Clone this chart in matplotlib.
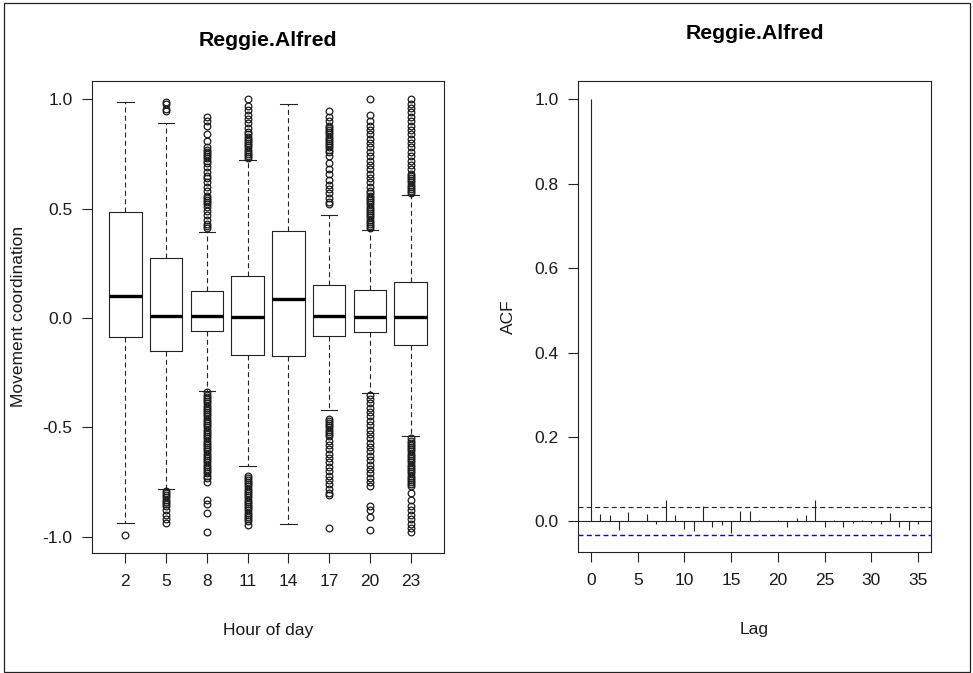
import numpy as np
import matplotlib
matplotlib.use('Agg')
import matplotlib.pyplot as plt
from matplotlib.patches import Rectangle

plt.rcParams['font.family'] = ['Liberation Sans', 'DejaVu Sans']
plt.rcParams['axes.unicode_minus'] = False
plt.rcParams['lines.scale_dashes'] = False

title = 'Reggie.Alfred'

# boxplot: hour of day groups
hours = ['2', '5', '8', '11', '14', '17', '20', '23']
whis_hi = [0.99, 0.89, 0.393, 0.721, 0.98, 0.470, 0.401, 0.564]
q3 = [0.485, 0.275, 0.123, 0.191, 0.397, 0.150, 0.126, 0.164]
med = [0.100, 0.008, 0.008, 0.004, 0.089, 0.008, 0.004, 0.004]
q1 = [-0.085, -0.152, -0.057, -0.167, -0.175, -0.080, -0.065, -0.121]
whis_lo = [-0.935, -0.782, -0.333, -0.677, -0.942, -0.421, -0.345, -0.540]
fliers = [
    [-0.99],
    [0.99, 0.98, 0.955, 0.945,
     -0.79, -0.80, -0.81, -0.82, -0.83, -0.84, -0.85, -0.86, -0.88, -0.90, -0.92, -0.935],
    [0.41, 0.42, 0.43, 0.45, 0.47, 0.49, 0.51, 0.52, 0.53, 0.54, 0.55, 0.56, 0.58, 0.60,
     0.62, 0.64, 0.65, 0.67, 0.69, 0.71, 0.72, 0.73, 0.74, 0.75, 0.76, 0.77, 0.78, 0.81,
     0.84, 0.88, 0.90, 0.92,
     -0.34, -0.35, -0.36, -0.37, -0.38, -0.39, -0.40, -0.41, -0.42, -0.43, -0.44, -0.45,
     -0.46, -0.47, -0.48, -0.49, -0.50, -0.51, -0.52, -0.53, -0.54, -0.55, -0.56, -0.57,
     -0.58, -0.59, -0.60, -0.61, -0.62, -0.63, -0.64, -0.65, -0.66, -0.67, -0.68, -0.69,
     -0.70, -0.71, -0.72, -0.73, -0.75, -0.83, -0.85, -0.89, -0.98],
    [0.73, 0.74, 0.75, 0.76, 0.77, 0.78, 0.79, 0.80, 0.81, 0.82, 0.83, 0.84, 0.85, 0.87,
     0.89, 0.91, 0.93, 0.95, 0.97, 1.0,
     -0.72, -0.73, -0.74, -0.75, -0.76, -0.77, -0.78, -0.79, -0.80, -0.81, -0.82, -0.83,
     -0.84, -0.85, -0.86, -0.87, -0.88, -0.89, -0.90, -0.91, -0.92, -0.93, -0.945],
    [],
    [0.52, 0.53, 0.55, 0.57, 0.59, 0.61, 0.63, 0.66, 0.68, 0.71, 0.74, 0.76, 0.77, 0.78,
     0.79, 0.80, 0.81, 0.82, 0.83, 0.84, 0.85, 0.86, 0.87, 0.88, 0.90, 0.92, 0.945,
     -0.46, -0.47, -0.48, -0.49, -0.50, -0.51, -0.52, -0.53, -0.54, -0.56, -0.58, -0.60,
     -0.62, -0.64, -0.66, -0.68, -0.70, -0.72, -0.74, -0.76, -0.78, -0.80, -0.81, -0.96],
    [0.41, 0.42, 0.43, 0.44, 0.45, 0.46, 0.47, 0.48, 0.49, 0.50, 0.51, 0.52, 0.53, 0.54,
     0.55, 0.56, 0.57, 0.58, 0.60, 0.62, 0.64, 0.66, 0.68, 0.70, 0.72, 0.74, 0.76, 0.78,
     0.80, 0.82, 0.84, 0.86, 0.88, 0.90, 0.93, 1.0,
     -0.35, -0.37, -0.39, -0.41, -0.43, -0.45, -0.47, -0.49, -0.51, -0.53, -0.55, -0.57,
     -0.59, -0.61, -0.63, -0.65, -0.67, -0.69, -0.71, -0.73, -0.75, -0.77,
     -0.86, -0.88, -0.91, -0.97],
    [0.57, 0.58, 0.59, 0.60, 0.61, 0.62, 0.63, 0.64, 0.65, 0.66, 0.68, 0.70, 0.72, 0.74,
     0.76, 0.78, 0.80, 0.82, 0.84, 0.86, 0.88, 0.90, 0.92, 0.94, 0.96, 0.98, 1.0,
     -0.55, -0.56, -0.57, -0.58, -0.59, -0.60, -0.61, -0.62, -0.63, -0.64, -0.65, -0.66,
     -0.67, -0.68, -0.69, -0.70, -0.71, -0.72, -0.73, -0.74, -0.75, -0.76, -0.77,
     -0.80, -0.83, -0.86, -0.88, -0.90, -0.92, -0.94, -0.96, -0.98],
]

# acf
lags = list(range(36))
acf = [1.0, 0.017, 0.015, -0.020, 0.022, 0.0, 0.017, -0.006, 0.050, 0.015,
       -0.017, -0.023, 0.036, -0.012, -0.008, -0.028, 0.025, 0.025, 0.004, 0.002,
       0.004, -0.013, 0.009, 0.016, 0.051, -0.012, 0.004, -0.012, -0.004, 0.004,
       -0.004, -0.006, 0.020, -0.012, -0.020, -0.005]
ci_up = 0.035
ci_lo = -0.033

W, H = 973, 673
fig = plt.figure(figsize=(W / 100, H / 100), dpi=100)
fig.patches.append(Rectangle((4 / W, 1.5 / H), 966 / W, 668.5 / H, transform=fig.transFigure,
                             fill=False, lw=0.9, edgecolor='#222222'))

ax1 = fig.add_axes([92 / W, (H - 552.7) / H, 352 / W, 471.7 / H])
ax2 = fig.add_axes([578 / W, (H - 552.3) / H, 353 / W, 471.3 / H])

stats = []
for i in range(len(hours)):
    stats.append({'med': med[i], 'q1': q1[i], 'q3': q3[i], 'whislo': whis_lo[i],
                  'whishi': whis_hi[i], 'fliers': fliers[i], 'label': hours[i]})

pos = np.arange(1, len(hours) + 1)
ax1.bxp(stats, positions=pos, widths=0.8, showfliers=True,
        boxprops=dict(color='#222222', lw=0.8),
        medianprops=dict(color='black', lw=2.4, solid_capstyle='butt'),
        whiskerprops=dict(color='#222222', lw=0.8, linestyle=(0, (3.6, 2.4))),
        capprops=dict(color='#222222', lw=0.8),
        capwidths=0.4,
        flierprops=dict(marker='o', markerfacecolor='none', markeredgecolor='#1a1a1a',
                        markersize=4.8, markeredgewidth=0.9))
ax1.set_xlim(0.18, 8.82)
ax1.set_ylim(-1.073, 1.084)
ax1.set_yticks([-1.0, -0.5, 0.0, 0.5, 1.0])
ax1.set_yticklabels(['-1.0', '-0.5', '0.0', '0.5', '1.0'])
ax1.set_xticks(pos)
ax1.set_xticklabels(hours)

ax2.vlines(lags, 0, acf, color='#222222', lw=0.8)
ax2.axhline(0, color='#222222', lw=0.8)
ax2.axhline(ci_up, color='#1c1c4a', lw=0.8, linestyle=(0, (3.6, 2.4)))
ax2.axhline(ci_lo, color='#0000ff', lw=1.0, linestyle=(0, (3.6, 2.4)))
ax2.set_xlim(-1.4, 36.4)
ax2.set_ylim(-0.073, 1.043)
ax2.set_xticks(range(0, 36, 5))
ax2.set_yticks([0.0, 0.2, 0.4, 0.6, 0.8, 1.0])
ax2.set_yticklabels(['0.0', '0.2', '0.4', '0.6', '0.8', '1.0'])

for ax in (ax1, ax2):
    for s in ax.spines.values():
        s.set_linewidth(0.8)
        s.set_color('#222222')
    ax.tick_params(direction='out', length=7, width=0.8, color='#222222',
                   labelsize=12.5, labelcolor='#1a1a1a')
    ax.tick_params(axis='x', pad=8)
    ax.tick_params(axis='y', pad=7)

ax1.set_xlabel('Hour of day', fontsize=12.5, color='#1a1a1a')
ax1.set_ylabel('Movement coordination', fontsize=12.5, color='#1a1a1a')
ax2.set_xlabel('Lag', fontsize=12.5, color='#1a1a1a')
ax2.set_ylabel('ACF', fontsize=12.5, color='#1a1a1a')
for lab in (ax1.xaxis.label, ax1.yaxis.label, ax2.xaxis.label, ax2.yaxis.label):
    lab.set_va('center')
ax1.xaxis.set_label_coords(0.5, -0.164)
ax2.xaxis.set_label_coords(0.5, -0.163)
ax1.yaxis.set_label_coords(-0.21, 0.5)
ax2.yaxis.set_label_coords(-0.198, 0.5)

ax1.text(0.5, 1.0748, title, transform=ax1.transAxes, ha='center', va='baseline',
         fontsize=15.3, fontweight='bold')
ax2.text(0.5, 1.089, title, transform=ax2.transAxes, ha='center', va='baseline',
         fontsize=15.3, fontweight='bold')

fig.savefig('out.png', dpi=100)
